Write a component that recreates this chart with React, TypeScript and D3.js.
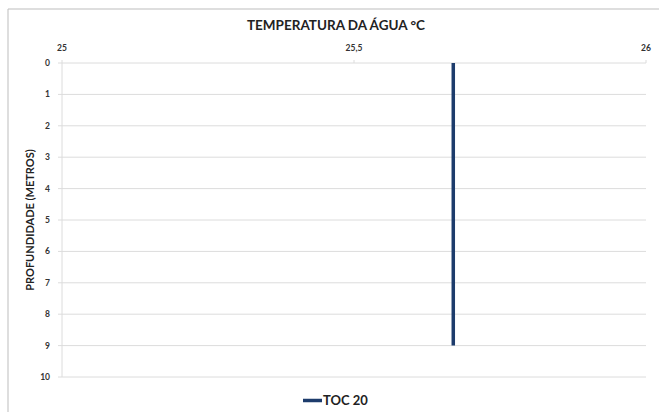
import React from "react";
import * as d3 from "d3";

const depths = [0, 1, 2, 3, 4, 5, 6, 7, 8, 9];
const temps = [25.67, 25.67, 25.67, 25.67, 25.67, 25.67, 25.67, 25.67, 25.67, 25.67];
const xTicks = [25, 25.5, 26];
const yTicks = [0, 1, 2, 3, 4, 5, 6, 7, 8, 9, 10];
const seriesName = "TOC 20";
const title = "TEMPERATURA DA ÁGUA °C";
const yTitle = "PROFUNDIDADE (METROS)";

const W = 659, H = 412;
const left = 62, right = 646, top = 63, bottom = 377;

export default function App() {
  const x = d3.scaleLinear().domain([25, 26]).range([left, right]);
  const y = d3.scaleLinear().domain([0, 10]).range([top, bottom]);
  const line = d3.line<number>().x((d) => x(temps[d])).y((d) => y(depths[d]));
  const fmt = (v: number) => String(v).replace(".", ",");
  const font = "Lato, 'Open Sans', sans-serif";
  return (
    <svg width={W} height={H} style={{ position: "absolute", left: 0, top: 0, background: "#fff" }} fontFamily={font}>
      <rect x={0} y={0} width={W} height={H} fill="#fff" />
      <line x1={8} y1={9} x2={W} y2={9} stroke="#bdbdbd" strokeWidth={1} />
      <line x1={8} y1={9} x2={8} y2={H} stroke="#bdbdbd" strokeWidth={1} />
      <text x={336} y={30} textAnchor="middle" fontSize={13.5} fontWeight="bold" fill="#222">{title}</text>
      {yTicks.map((t) => (
        <g key={t}>
          <line x1={left} x2={right} y1={y(t)} y2={y(t)} stroke="#dcdcdc" strokeWidth={1} />
          <line x1={left - 4} x2={left} y1={y(t)} y2={y(t)} stroke="#dcdcdc" strokeWidth={1} />
          <text x={50} y={y(t) + 3} textAnchor="end" fontSize={8.5} fontWeight="bold" fill="#333">{t}</text>
        </g>
      ))}
      <line x1={left} x2={left} y1={top} y2={bottom} stroke="#dcdcdc" strokeWidth={1} />
      {xTicks.map((t) => (
        <g key={t}>
          <line x1={x(t)} x2={x(t)} y1={top - 3} y2={top} stroke="#dcdcdc" strokeWidth={1} />
          <text x={x(t)} y={51} textAnchor="middle" fontSize={8.5} fontWeight="bold" fill="#333">{fmt(t)}</text>
        </g>
      ))}
      <text transform={`translate(34,220) rotate(-90)`} textAnchor="middle" fontSize={11} fontWeight="bold" fill="#222">{yTitle}</text>
      <path d={line(depths.map((_, i) => i)) || ""} fill="none" stroke="#1d3c6c" strokeWidth={3.5} />
      <line x1={303} x2={322} y1={400.5} y2={400.5} stroke="#1d3c6c" strokeWidth={3.5} />
      <text x={323} y={405} fontSize={13} fontWeight="bold" fill="#222">{seriesName}</text>
    </svg>
  );
}
